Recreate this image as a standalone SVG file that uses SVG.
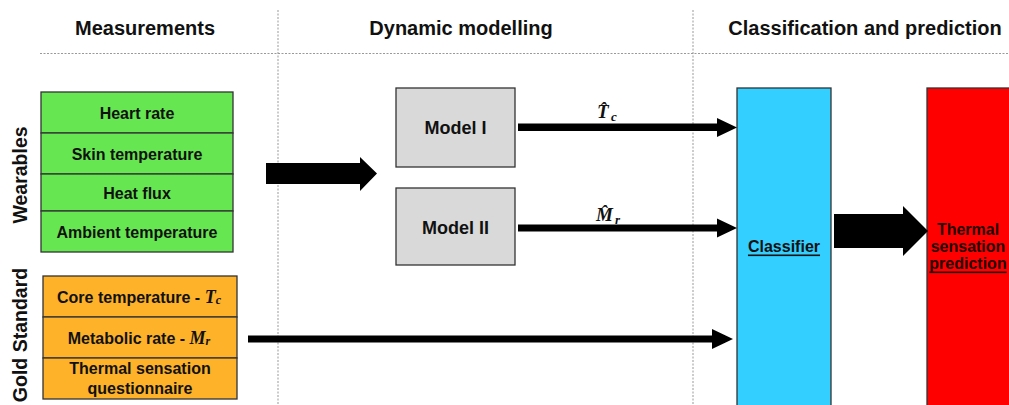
<svg xmlns="http://www.w3.org/2000/svg" width="1009" height="405" viewBox="0 0 1009 405">
<style>
text{font-family:"Liberation Sans",Arial,sans-serif;font-weight:bold;fill:#111}
.hdr{font-size:20px;text-anchor:middle}
.side{font-size:19.5px;text-anchor:middle}
.lbl{font-size:16px;text-anchor:middle;dominant-baseline:central}
.mdl{font-size:18px;text-anchor:middle;dominant-baseline:central}
.math{font-family:"Liberation Serif","Times New Roman",serif;font-style:italic;font-weight:bold}
.box{stroke:#333;stroke-width:1.3}
.green{fill:#66E650}
.orange{fill:#FDB22A}
.grey{fill:#D9D9D9}
.cyan{fill:#33CFFF}
.red{fill:#FF0000}
.sep{stroke:#999;stroke-width:1;stroke-dasharray:2 1.5;fill:none}
.arrow{fill:#000}
</style>
<rect width="1009" height="405" fill="#fff"/>
<g id="separators">
<line class="sep" x1="40" y1="53.5" x2="1009" y2="53.5"/>
<line class="sep" x1="278" y1="10" x2="278" y2="405"/>
<line class="sep" x1="693" y1="10" x2="693" y2="405"/>
</g>
<g id="headers">
<text class="hdr" x="145" y="35">Measurements</text>
<text class="hdr" x="461" y="35">Dynamic modelling</text>
<text class="hdr" x="865" y="35" font-size="19.2">Classification and prediction</text>
</g>
<g id="wearables">
<text class="side" transform="translate(27,175) rotate(-90)">Wearables</text>
<rect class="box green" x="41" y="92" width="192" height="41"/>
<rect class="box green" x="41" y="133" width="192" height="41"/>
<rect class="box green" x="41" y="174" width="192" height="37"/>
<rect class="box green" x="41" y="211" width="192" height="41"/>
<text class="lbl" x="137" y="113">Heart rate</text>
<text class="lbl" x="137" y="154">Skin temperature</text>
<text class="lbl" x="137" y="193">Heat flux</text>
<text class="lbl" x="137" y="232">Ambient temperature</text>
</g>
<g id="gold-standard">
<text class="side" transform="translate(27,335) rotate(-90)">Gold Standard</text>
<rect class="box orange" x="43" y="276" width="194" height="41"/>
<rect class="box orange" x="43" y="317" width="194" height="41"/>
<rect class="box orange" x="43" y="358" width="194" height="41"/>
<text class="lbl" x="139" y="297">Core temperature - <tspan class="math" font-size="18">T</tspan><tspan class="math" font-size="12" dy="3">c</tspan></text>
<text class="lbl" x="139" y="338">Metabolic rate - <tspan class="math" font-size="18">M</tspan><tspan class="math" font-size="12" dy="3">r</tspan></text>
<text class="lbl" x="140" y="368">Thermal sensation</text>
<text class="lbl" x="140" y="388">questionnaire</text>
</g>
<g id="model-1">
<rect class="box grey" x="396" y="88" width="119" height="79"/>
<text class="mdl" x="455.5" y="127.5">Model I</text>
</g>
<g id="model-2">
<rect class="box grey" x="396" y="188" width="119" height="77"/>
<text class="mdl" x="455.5" y="227.5">Model II</text>
</g>
<g id="classifier">
<rect class="box cyan" x="737" y="88" width="94" height="330"/>
<text class="lbl" x="784" y="246" text-decoration="underline">Classifier</text>
</g>
<g id="prediction">
<rect class="box red" x="927" y="88" width="95" height="330"/>
<text class="lbl" x="968" y="229" font-size="15.5" style="fill:#200">Thermal</text>
<text class="lbl" x="968" y="246" font-size="15.5" style="fill:#200">sensation</text>
<text class="lbl" x="968" y="263" font-size="15.5" style="fill:#200" text-decoration="underline">prediction</text>
</g>
<g id="connectors">
<polygon class="arrow" points="266,163 360,163 360,157 377,173.5 360,191 360,184 266,184"/>
<polygon class="arrow" points="518,123.5 717,123.5 717,118 737,127.5 717,137 717,131 518,131"/>
<polygon class="arrow" points="518,224.5 717,224.5 717,218.5 737,228 717,237.5 717,231.5 518,231.5"/>
<polygon class="arrow" points="248,335.5 712,335.5 712,329 733,339 712,349 712,342.5 248,342.5"/>
<polygon class="arrow" points="834,214 903,214 903,206 928,231 903,256 903,248 834,248"/>
<text class="math" x="597" y="118" font-size="19">T̂</text><text class="math" x="611" y="121" font-size="13">c</text>
<text class="math" x="596" y="221" font-size="19">M̂</text><text class="math" x="615" y="224" font-size="13">r</text>
</g>
</svg>
